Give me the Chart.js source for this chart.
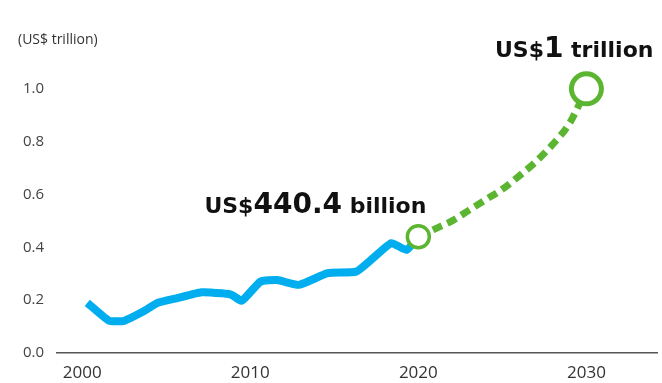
<!DOCTYPE html>
<html>
<head>
<meta charset="utf-8">
<script src="https://cdn.jsdelivr.net/npm/chart.js@4.4.1/dist/chart.umd.min.js"></script>
<style>
  html, body { margin: 0; padding: 0; background: #fff; }
</style>
</head>
<body>
<canvas id="chart" width="662" height="383"></canvas>
<script>
// Market size, US$ trillion (history up to 2020)
const histYears = [2000.3, 2001.6, 2002.5, 2003.6, 2004.5, 2005.6, 2007.1, 2008.3, 2008.9, 2009.5,
  2010.6, 2011.6, 2012.9, 2014.6, 2016.3, 2017.3, 2018.4, 2019.3, 2020];
const histValues = [0.19, 0.122, 0.122, 0.156, 0.19, 0.207, 0.23, 0.226, 0.22, 0.198,
  0.27, 0.276, 0.258, 0.302, 0.308, 0.359, 0.416, 0.39, 0.4404];

// Forecast 2020 -> 2030
const forecastYears = [2020, 2021, 2022, 2023, 2024, 2025, 2026, 2027, 2028, 2029, 2030];
const forecastValues = [0.4404, 0.47, 0.50, 0.54, 0.58, 0.62, 0.67, 0.725, 0.79, 0.87, 1.0];

const yearTicks = [2000, 2010, 2020, 2030];
const valueTicks = [0, 0.2, 0.4, 0.6, 0.8, 1.0];
const unitLabel = '(US$ trillion)';

const BLUE = '#00aeef';
const GREEN = '#5cb531';
const FONT = '"Open Sans", "DejaVu Sans", sans-serif';
const BOLD_FONT = '"DejaVu Sans", sans-serif';

const toPoints = (xs, ys) => xs.map((x, i) => ({ x, y: ys[i] }));

// "US$" + number + unit, number drawn larger
function valueParts(v) {
  if (v >= 1) return ['US$', String(Math.round(v * 10) / 10), ' trillion'];
  return ['US$', (v * 1000).toFixed(1), ' billion'];
}

function drawParts(ctx, parts, right, baseline) {
  const fonts = [`bold 22px ${BOLD_FONT}`, `bold 28px ${BOLD_FONT}`, `bold 22px ${BOLD_FONT}`];
  let total = 0;
  const widths = parts.map((p, i) => {
    ctx.font = fonts[i];
    const w = ctx.measureText(p).width;
    total += w;
    return w;
  });
  let x = right - total;
  parts.forEach((p, i) => {
    ctx.font = fonts[i];
    ctx.fillText(p, x, baseline);
    x += widths[i];
  });
}

// Unit caption and the two value call-outs
const calloutPlugin = {
  id: 'callouts',
  afterDraw: (chart) => {
    const { ctx, scales } = chart;
    ctx.save();
    ctx.fillStyle = '#333';
    ctx.font = `14px ${FONT}`;
    ctx.textBaseline = 'middle';
    ctx.textAlign = 'left';
    ctx.fillText(unitLabel, 18, 40);

    ctx.fillStyle = '#111';
    ctx.textBaseline = 'alphabetic';
    const first = forecastValues[0];
    const last = forecastValues[forecastValues.length - 1];
    const x0 = scales.x.getPixelForValue(forecastYears[0]);
    const y0 = scales.y.getPixelForValue(first);
    drawParts(ctx, valueParts(first), x0 + 8, y0 - 24);
    const x1 = scales.x.getPixelForValue(forecastYears[forecastYears.length - 1]);
    const y1 = scales.y.getPixelForValue(last);
    drawParts(ctx, valueParts(last), x1 + 67, y1 - 32);
    ctx.restore();
  },
};

const lastIdx = forecastValues.length - 1;

new Chart(document.getElementById('chart'), {
  type: 'line',
  data: {
    datasets: [
      {
        label: 'Forecast',
        data: toPoints(forecastYears, forecastValues),
        borderColor: GREEN,
        borderWidth: 7,
        borderDash: [10, 6],
        borderCapStyle: 'butt',
        cubicInterpolationMode: 'monotone',
        pointRadius: (c) => (c.dataIndex === 0 ? 11 : c.dataIndex === lastIdx ? 15 : 0),
        pointBorderWidth: (c) => (c.dataIndex === lastIdx ? 5 : 3.5),
        pointBorderColor: GREEN,
        pointBackgroundColor: '#fff',
        clip: false,
      },
      {
        label: 'Actual',
        data: toPoints(histYears, histValues),
        borderColor: BLUE,
        borderWidth: 8,
        borderJoinStyle: 'round',
        borderCapStyle: 'butt',
        tension: 0.15,
        pointRadius: 0,
      },
    ],
  },
  options: {
    responsive: false,
    animation: false,
    devicePixelRatio: 1,
    layout: { autoPadding: false, padding: { top: 36, right: 5, left: 0, bottom: 0 } },
    plugins: {
      legend: { display: false },
      tooltip: { enabled: false },
    },
    scales: {
      x: {
        type: 'linear',
        min: 1998.5,
        max: 2034.2,
        grid: { display: false },
        border: { display: true, color: '#555', width: 1.5 },
        afterBuildTicks: (s) => { s.ticks = yearTicks.map((v) => ({ value: v })); },
        afterFit: (s) => { s.height = 30; },
        ticks: {
          padding: 2,
          color: '#333',
          font: { family: FONT, size: 17 },
          callback: (v) => String(v),
        },
      },
      y: {
        min: 0,
        max: 1.2,
        grid: { display: false },
        border: { display: false },
        afterBuildTicks: (s) => { s.ticks = valueTicks.map((v) => ({ value: v })); },
        afterFit: (s) => { s.width = 57; },
        ticks: {
          padding: 5,
          color: '#444',
          font: { family: FONT, size: 15 },
          callback: (v) => v.toFixed(1),
        },
      },
    },
  },
  plugins: [calloutPlugin],
});
</script>
</body>
</html>
